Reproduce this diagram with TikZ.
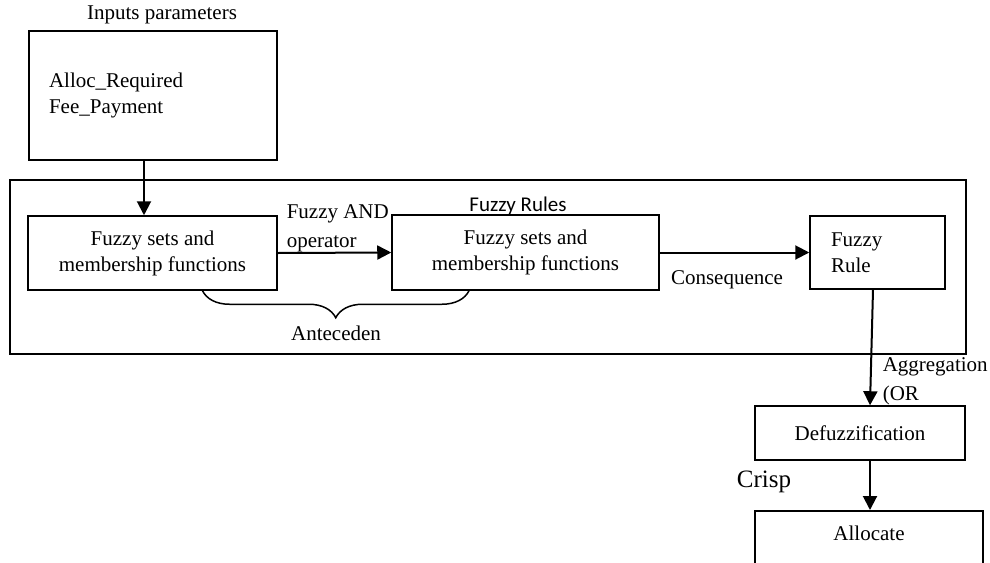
\documentclass[tikz,border=0pt]{standalone}
\usepackage{fontspec}
\setmainfont{Liberation Serif}
\newfontfamily\calibri{Carlito}
\usetikzlibrary{arrows.meta, positioning, decorations.pathreplacing}

\begin{document}
\begin{tikzpicture}[x=0.5pt, y=-0.5pt, font=\fontsize{10.5}{13}\selectfont,
  >={Triangle[length=7pt, width=7pt]}, line width=0.75pt,
  stage/.style={draw, align=center, inner sep=0pt},
  flow/.style={->, line width=1pt}]
\clip (0,0) rectangle (990,562);
% input block
\node (title) at (162,15) {Inputs parameters};
\node[stage, align=left, text width=104pt, inner xsep=10pt, minimum height=64.5pt] (input) at (153,95.5) {Alloc\_Required\\Fee\_Payment};
% fuzzy inference frame
\node[draw, minimum width=478pt, minimum height=87pt] (frame) at (488,267) {};
\node[stage, minimum width=124.5pt, minimum height=37pt] (sets) at (152.5,253) {Fuzzy sets and\\membership functions};
\node[stage, minimum width=133.5pt, minimum height=37.5pt] (sets2) at (525.5,252.5) {Fuzzy sets and\\membership functions};
\node[font=\calibri\fontsize{10.5}{13}\selectfont] (rules) at (518,206) {Fuzzy Rules};
\node[stage, align=left, text width=46.5pt, inner xsep=10.5pt, minimum height=36.5pt] (rule) at (877.5,252.5) {Fuzzy\\Rule};
% output blocks
\node[stage, minimum width=105pt, minimum height=27pt] (defuzz) at (860,433) {Defuzzification};
\node[draw, anchor=north, minimum width=114pt, text height=12pt, text depth=24pt, inner sep=3pt] (alloc) at (869,510) {Allocate};

\draw[flow] ([xshift=-4.5pt]input.south) -- ([xshift=-4.25pt]sets.north);
\draw[flow] (sets.east) -- (sets2.west);
\node[anchor=west, align=left, font=\fontsize{10.5}{14.5}\selectfont, inner sep=0pt] (andop) at (286,228) {Fuzzy AND\\operator};
\draw[flow] (sets2.east) -- node[below=5pt, pos=0.45] (conseq) {Consequence} (rule.west);
\draw[decorate, decoration={brace, amplitude=13.5pt, mirror}] ([xshift=25pt]sets.south) -- ([xshift=-28.25pt]sets2.south);
\node (ante) at (336,333) {Anteceden};
\draw[flow] ([xshift=-2.25pt]rule.south) -- ([xshift=5pt]defuzz.north);
\node[anchor=west, align=left, font=\fontsize{10.5}{14.5}\selectfont, inner sep=0pt] (aggr) at (882,381) {Aggregation\\(OR};
\draw[flow] ([xshift=5pt]defuzz.south) -- ([xshift=0.5pt]alloc.north);
\node[font=\fontsize{12.5}{15}\selectfont] (crisp) at (764,482) {Crisp};
\end{tikzpicture}
\end{document}
